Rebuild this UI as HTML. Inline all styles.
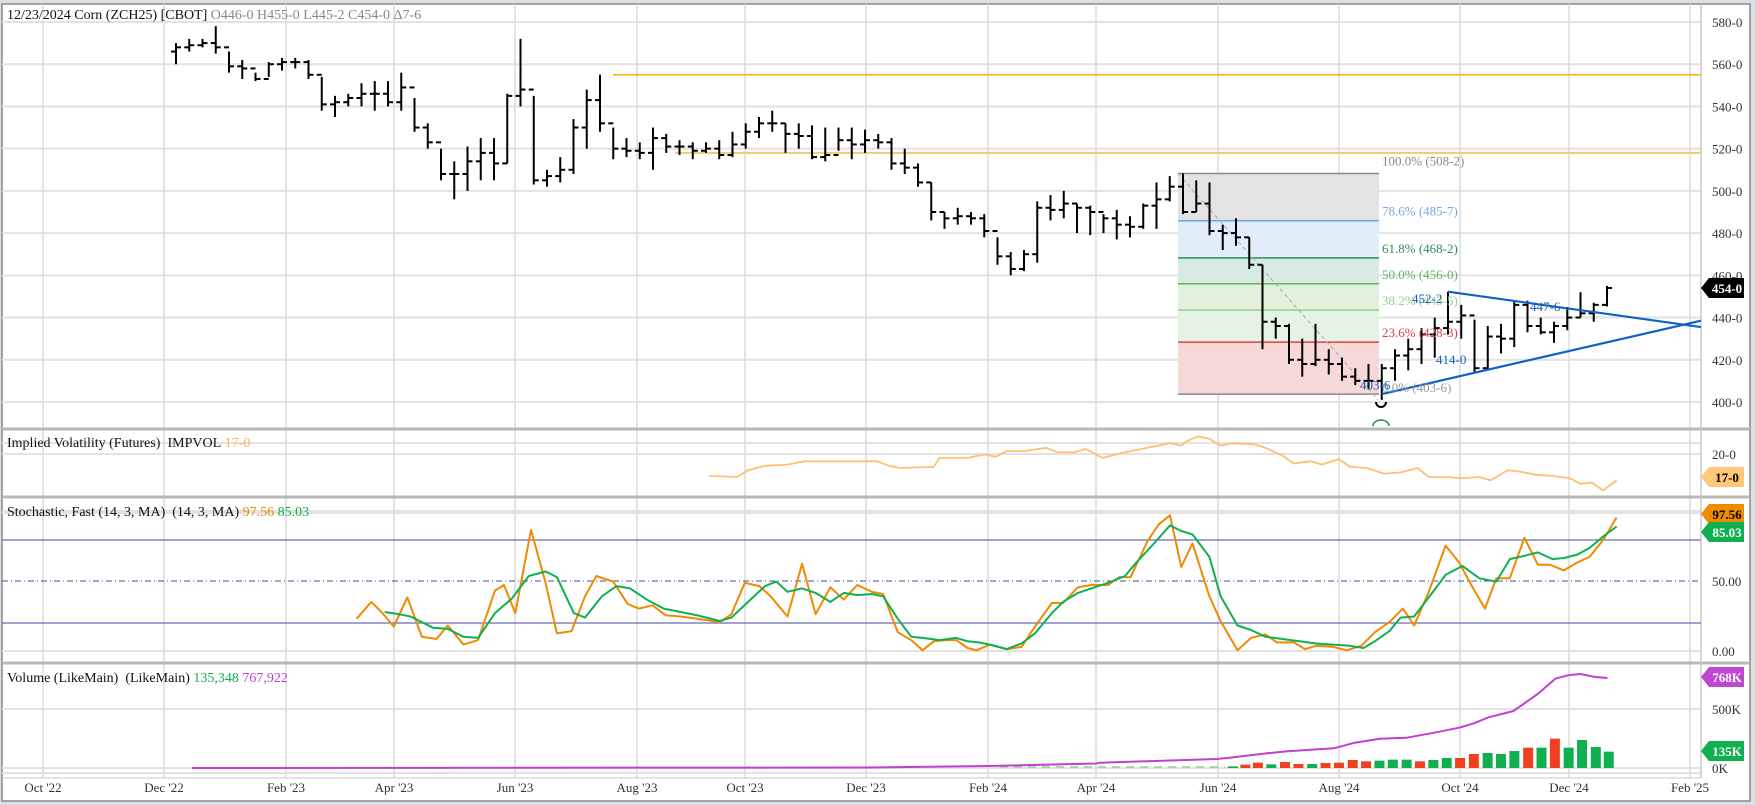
<!DOCTYPE html>
<html><head><meta charset="utf-8"><style>
html,body{margin:0;padding:0;background:#fff;}
svg{display:block;font-family:"Liberation Serif",serif;}
</style></head><body>
<svg id="s" width="1755" height="805" viewBox="0 0 1755 805" xmlns="http://www.w3.org/2000/svg">
<rect x="0" y="0" width="1755" height="805" fill="#dde0e3"/>
<rect x="2" y="4" width="1748" height="797" fill="#fff" stroke="#888" stroke-width="1.5"/>
<g id="grid"></g>
<g id="fib"></g>
<g id="main"></g>
<g id="txt"></g>
</svg>
<script>
const NS="http://www.w3.org/2000/svg";
function el(p,t,a,txt){const e=document.createElementNS(NS,t);for(const k in a)e.setAttribute(k,a[k]);if(txt!==undefined)e.textContent=txt;document.getElementById(p).appendChild(e);return e;}
const PR=1701;
const yp=p=>22+(580-p)*2.111;
for(let p=400;p<=580;p+=20){el('grid','line',{x1:2,x2:PR,y1:yp(p),y2:yp(p),stroke:'#e2e2e2','stroke-width':2});
 el('txt','text',{x:1712,y:yp(p)+5,'font-size':13,fill:'#333'},p+'-0');}
const hl=[454,511,651,709,768,773,443,513];
for(const y of hl)el('grid','line',{x1:2,x2:PR,y1:y,y2:y,stroke:'#e2e2e2','stroke-width':2});
const months=[[43,"Oct '22"],[164,"Dec '22"],[286,"Feb '23"],[394,"Apr '23"],[515,"Jun '23"],[637,"Aug '23"],[745,"Oct '23"],[866,"Dec '23"],[988,"Feb '24"],[1096,"Apr '24"],[1218,"Jun '24"],[1339,"Aug '24"],[1460,"Oct '24"],[1569,"Dec '24"],[1690,"Feb '25"]];
for(const [x,l] of months){el('grid','line',{x1:x,x2:x,y1:4,y2:778,stroke:'#dcdcdc','stroke-width':1.5});
 el('txt','text',{x:x,y:792,'font-size':13,'text-anchor':'middle',fill:'#333'},l);}
for(const y of [429,497,663])el('grid','rect',{x:2,y:y-1.5,width:1748,height:3,fill:'#b8b8b8'});
el('grid','line',{x1:PR,x2:PR,y1:4,y2:778,stroke:'#c8c8c8','stroke-width':1.5});
el('grid','line',{x1:2,x2:PR,y1:778,y2:778,stroke:'#c8c8c8','stroke-width':1});
// Fib
const fx1=1178,fx2=1379;
const fl=[[508.25,485.875,'#e3e3e6','#888','100.0% (508-2)','#888'],[485.875,468.25,'#e1edf9','#6fa8e6','78.6% (485-7)','#6fa8e6'],[468.25,456,'#d8eae4','#2e8b64','61.8% (468-2)','#2e8b64'],[456,443.5,'#e2f0dd','#5cb85c','50.0% (456-0)','#5cb85c'],[443.5,428.375,'#e6f2e3','#8fd08f','38.2% (443-5)','#8fd08f'],[428.375,403.75,'#f6d8d8','#e04040','23.6% (428-3)','#e04040']];
for(const [a,b,f,lc,lab,tc] of fl){el('fib','rect',{x:fx1,y:yp(a),width:fx2-fx1,height:yp(b)-yp(a),fill:f});
 el('fib','line',{x1:fx1,x2:fx2,y1:yp(a),y2:yp(a),stroke:lc,'stroke-width':1.5});
 el('txt','text',{x:1382,y:yp(a)-5+(lab.startsWith('100')?-3:0),'font-size':13,fill:tc},lab);}
el('fib','line',{x1:fx1,x2:fx2,y1:yp(403.75),y2:yp(403.75),stroke:'#888','stroke-width':1.5});
el('txt','text',{x:1382,y:yp(403.75)-2,'font-size':13,fill:'#999'},'0.0% (403-6)');
el('fib','line',{x1:fx1,y1:yp(508.25),x2:1378,y2:yp(401),stroke:'#aaa','stroke-width':1,'stroke-dasharray':'4,3'});
el('main','line',{x1:613,x2:PR,y1:yp(555),y2:yp(555),stroke:'#f5b400','stroke-width':1.5});
el('main','line',{x1:675,x2:PR,y1:yp(518),y2:yp(518),stroke:'#f7c870','stroke-width':2});
const B=[[570,560,568],[572,566,569],[572,568,570],[578,565,568],[566,556,559],[562,553,558],[556,552,553],[561,554,560],[563,557,561],[563,558,561],[562,553,555],[554,538,541],[545,535,542],[546,540,544],[551,540,546],[552,538,546],[552,540,542],[556,538,549],[544,528,530],[532,520,523],[520,505,508],[514,496,508],[521,500,514],[525,505,518],[525,505,513],[546,513,545],[572,540,548],[545,503,505],[510,502,507],[516,504,510],[534,508,530],[548,520,543],[555,528,532],[530,515,520],[525,516,519],[523,515,518],[530,510,525],[527,518,521],[524,517,521],[523,515,519],[523,518,520],[524,515,517],[528,516,522],[532,520,528],[535,525,532],[538,528,532],[532,518,527],[532,520,526],[531,515,516],[530,514,517],[530,519,524],[530,515,522],[529,518,524],[527,520,523],[525,510,513],[520,508,511],[513,502,504],[504,486,490],[490,482,487],[492,484,488],[490,484,487],[489,478,481],[478,465,469],[471,460,463],[472,462,470],[495,466,492],[498,486,491],[500,487,494],[494,480,492],[493,479,490],[489,480,487],[491,477,484],[488,478,483],[494,482,493],[504,482,496],[507,495,502],[508.25,489,490],[505,490,494],[504,479,481],[484,472,480],[487,474,478],[478,463,465],[465,425,438],[440,430,436],[437,418,420],[430,412,418],[437,417,420],[425,413,418],[421,410,412],[416,408,410],[418,406,410],[418,401,416],[425,410,422],[430,415,425],[435,418,432],[440,421,435],[452.25,432,438],[446,430,441],[439,414,416],[436,415,431],[437,423,430],[448,426,446],[448,433,436],[440,432,433],[438,428,436],[445,434,440],[452,440,442],[447,438,446],[455,445.25,454]];
const bx=i=>176+i*13.25;
let pc=B[0][2]-2;
B.forEach((b,i)=>{const x=bx(i);
 el('main','line',{x1:x,x2:x,y1:yp(b[0]),y2:yp(b[1]),stroke:'#000','stroke-width':2});
 el('main','line',{x1:x-5,x2:x,y1:yp(pc),y2:yp(pc),stroke:'#000','stroke-width':2});
 el('main','line',{x1:x,x2:x+5,y1:yp(b[2]),y2:yp(b[2]),stroke:'#000','stroke-width':2});
 pc=b[2];});
el('main','line',{x1:1382,y1:yp(403.75),x2:PR,y2:yp(438.5),stroke:'#1060c8','stroke-width':2.2});
el('main','line',{x1:1448,y1:yp(452.25),x2:PR,y2:yp(435.5),stroke:'#1060c8','stroke-width':2.2});
for(const [x,p,t] of [[1412,447,'452-2'],[1530,443,'447-6'],[1436,418,'414-0'],[1360,406,'403-6']])el('txt','text',{x:x,y:yp(p),'font-size':13,fill:'#1a5fb4'},t);
el('main','path',{d:'M1373,426 a8,6 0 0 1 16,0',fill:'none',stroke:'#2a8a4a','stroke-width':1.5});
el('main','path',{d:'M1376,402 a5,5 0 0 0 10,0',fill:'none',stroke:'#000','stroke-width':2});
function poly(pts,c,w,f){el('main','polyline',{points:pts.map(p=>f(p)).join(' '),fill:'none',stroke:c,'stroke-width':w,'stroke-linejoin':'round'});}
const sc=p=>(p[0]*1.125).toFixed(1)+','+(p[1]*1.125).toFixed(1);
poly([[630,423],[655,424],[665,418],[680,414],[700,413],[715,410],[740,410],[780,410],[790,414],[800,416],[830,415],[835,407],[860,407],[875,404],[885,406],[895,401],[910,401],[930,398],[940,402],[955,402],[965,399],[980,407],[1000,402],[1020,398],[1040,394],[1050,396],[1055,392],[1065,388],[1075,390],[1085,396],[1095,394],[1115,395],[1125,398],[1140,405],[1150,412],[1165,410],[1175,413],[1190,408],[1200,415],[1215,416],[1230,421],[1245,420],[1260,416],[1270,424],[1285,424],[1300,425],[1315,424],[1325,427],[1340,418],[1350,419],[1365,422],[1380,423],[1395,425],[1405,430],[1415,429],[1425,436],[1437,427]],'#ffc070',1.8,sc);
el('main','line',{x1:2,x2:PR,y1:540,y2:540,stroke:'#6a6ab8','stroke-width':1.3});
el('main','line',{x1:2,x2:PR,y1:623,y2:623,stroke:'#6a6ab8','stroke-width':1.3});
el('main','line',{x1:2,x2:PR,y1:581,y2:581,stroke:'#4a4aa0','stroke-width':1,'stroke-dasharray':'6,3,1,3'});
poly([[317,550],[330,535],[340,545],[350,557],[362,531],[375,566],[388,568],[398,556],[412,573],[425,569],[440,525],[448,520],[458,545],[472,471],[485,518],[495,563],[508,561],[520,530],[530,512],[545,517],[558,537],[568,541],[580,538],[592,547],[605,548],[620,550],[640,553],[650,546],[662,518],[675,521],[685,530],[700,548],[713,501],[725,546],[738,522],[750,533],[762,520],[775,526],[785,528],[798,562],[810,569],[820,578],[830,570],[840,569],[850,569],[860,576],[868,578],[880,573],[895,577],[908,575],[920,557],[935,536],[945,536],[958,522],[970,520],[985,520],[995,513],[1005,513],[1020,481],[1030,466],[1040,458],[1050,504],[1060,483],[1075,530],[1085,552],[1100,578],[1112,567],[1125,564],[1135,571],[1150,571],[1160,577],[1170,574],[1185,575],[1197,578],[1210,574],[1222,562],[1235,553],[1247,541],[1257,556],[1270,526],[1285,485],[1297,500],[1310,524],[1320,541],[1330,514],[1342,514],[1355,478],[1367,502],[1378,502],[1390,507],[1402,500],[1413,495],[1425,480],[1437,460]],'#f08a00',2,sc);
poly([[342,544],[355,546],[365,548],[375,553],[385,558],[398,559],[412,566],[425,567],[440,545],[455,532],[470,512],[485,508],[495,513],[510,545],[520,549],[535,530],[548,521],[560,523],[575,533],[590,541],[605,544],[620,547],[640,552],[650,549],[665,535],[680,521],[690,517],[700,526],[713,523],[725,527],[738,535],[750,527],[762,529],[775,528],[785,530],[798,550],[810,566],[820,567],[835,569],[850,567],[860,570],[870,571],[880,573],[895,577],[908,572],[920,563],[935,545],[945,535],[958,527],[970,523],[985,518],[1000,512],[1010,500],[1025,484],[1040,467],[1050,472],[1060,475],[1075,495],[1085,530],[1100,556],[1112,560],[1125,566],[1140,568],[1155,570],[1170,572],[1185,573],[1200,574],[1212,576],[1222,570],[1235,561],[1245,549],[1257,548],[1270,531],[1285,511],[1300,503],[1315,514],[1330,517],[1342,497],[1355,494],[1367,491],[1380,497],[1390,496],[1402,493],[1413,487],[1425,477],[1437,468]],'#10b050',2,sc);
// volume
const vz=[[318,'g',499],[348,'r',494],[378,'r',488],[410,'g',493],[443,'r',486],[475,'r',492],[508,'g',492],[540,'r',489],[572,'r',488],[605,'r',480],[637,'r',484],[669,'g',482],[701,'g',479],[734,'g',479],[766,'r',484],[798,'g',480],[830,'g',474],[862,'r',474],[895,'r',462],[928,'g',459],[960,'g',462],[992,'g',453],[1025,'r',443],[1057,'g',443],[1089,'r',416],[1122,'g',443],[1154,'g',420],[1187,'g',441],[1218,'g',455]];
for(const [zx,c,zy] of vz){const x=1100+zx/2.394,y=600+zy/3;el('main','rect',{x:x-5,y:y,width:10,height:Math.max(768-y,1),fill:c=='g'?'#10b050':'#f04020'});}
el('main','line',{x1:1000,x2:1225,y1:767,y2:767,stroke:'#9c9','stroke-width':1.5,'stroke-dasharray':'8,6'});
const pz=[[0,488],[280,477],[320,472],[400,460],[450,454],[560,445],[610,428],[670,416],[735,413],[800,398],[860,383],[895,370],[930,352],[990,333],[1050,280],[1090,236],[1120,226],[1150,222],[1185,231],[1215,234]];
const pts=[[192,768],[866,767.5],[988,766],[1096,763.5]].concat(pz.map(p=>[1100+p[0]/2.394,600+p[1]/3]));
poly(pts,'#c040d0',2,p=>p[0].toFixed(1)+','+p[1].toFixed(1));
for(const [y,t] of [[454,'20-0'],[581,'50.00'],[651,'0.00'],[709,'500K'],[768,'0K']])el('txt','text',{x:1712,y:y+5,'font-size':13,fill:'#333'},t);
function tag(y,t,bg,fg){el('txt','path',{d:`M1701,${y} L1709,${y-10} L1744,${y-10} L1744,${y+10} L1709,${y+10} Z`,fill:bg});
 el('txt','text',{x:1727,y:y+5,'font-size':13,'font-weight':'bold','text-anchor':'middle',fill:fg},t);}
tag(yp(454),'454-0','#000','#fff');
tag(477,'17-0','#ffc878','#000');
tag(514,'97.56','#f08a00','#000');
tag(532,'85.03','#10b050','#fff');
tag(677,'768K','#c048d0','#fff');
tag(751,'135K','#10b050','#fff');
function tt(x,y,parts){const t=el('txt','text',{x:x,y:y,'font-size':14,fill:'#111'});for(const [s,c] of parts){const sp=document.createElementNS(NS,'tspan');sp.setAttribute('fill',c);sp.textContent=s;t.appendChild(sp);}}
tt(7,19,[['12/23/2024 Corn (ZCH25) [CBOT] ','#111'],['O446-0 H455-0 L445-2 C454-0 \u03947-6','#888']]);
tt(7,447,[['Implied Volatility (Futures)\u00a0\u00a0IMPVOL\u00a0','#111'],['17-0','#ffb050']]);
tt(7,516,[['Stochastic, Fast (14, 3, MA)\u00a0\u00a0(14, 3, MA)\u00a0','#111'],['97.56\u00a0','#f08a00'],['85.03','#10b050']]);
tt(7,682,[['Volume (LikeMain)\u00a0\u00a0(LikeMain)\u00a0','#111'],['135,348\u00a0','#10b050'],['767,922','#c040d0']]);
</script>
</body></html>
